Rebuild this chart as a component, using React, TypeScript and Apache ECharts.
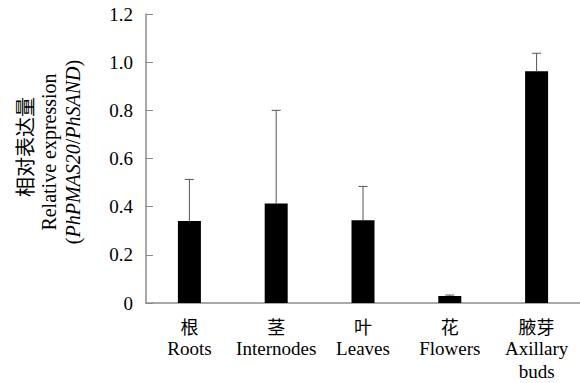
import React, { useEffect, useRef } from "react";
import * as echarts from "echarts";

const categoriesZh = ["根", "茎", "叶", "花", "腋芽"];
const categoriesEn = ["Roots", "Internodes", "Leaves", "Flowers", "Axillary\nbuds"];
const values = [0.34, 0.413, 0.344, 0.029, 0.962];
const errors = [0.173, 0.387, 0.14, 0.004, 0.075];
const yTicks = { min: 0, max: 1.2, interval: 0.2 };

const SERIF = "Liberation Serif";
const CJK = "Noto Sans CJK SC";

export default function App() {
  const ref = useRef<HTMLDivElement>(null);
  useEffect(() => {
    document.body.style.margin = "0";
    if (!ref.current) return;
    const chart = echarts.init(ref.current, undefined, { renderer: "svg" });
    const labels = categoriesZh.map((zh, i) => {
      const en = categoriesEn[i].split("\n").map((s) => `{en|${s}}`).join("\n");
      return `{zh|${zh}}\n${en}`;
    });
    chart.setOption({
      animation: false,
      backgroundColor: "#ffffff",
      textStyle: { fontFamily: SERIF },
      grid: { left: 146, top: 14, width: 442, bottom: 80, containLabel: false },
      xAxis: {
        type: "category",
        data: labels,
        boundaryGap: true,
        axisLine: { lineStyle: { color: "#8c8c8c", width: 1.5 } },
        axisTick: { inside: true, length: 8, lineStyle: { color: "#555", width: 1 } },
        axisLabel: {
          margin: 11,
          interval: 0,
          color: "#000",
          rich: {
            zh: { fontFamily: CJK, fontSize: 18, lineHeight: 23, color: "#000" },
            en: { fontFamily: SERIF, fontSize: 19, lineHeight: 23, color: "#000" },
          },
        },
        splitLine: { show: false },
      },
      yAxis: {
        type: "value",
        min: yTicks.min,
        max: yTicks.max,
        interval: yTicks.interval,
        axisLine: { show: true, lineStyle: { color: "#8c8c8c", width: 1.5 } },
        axisTick: { show: true, inside: true, length: 7, lineStyle: { color: "#8c8c8c", width: 1 } },
        axisLabel: {
          margin: 13,
          color: "#000",
          fontFamily: SERIF,
          fontSize: 19,
          formatter: (v: number) => (v === 0 ? "0" : v.toFixed(1)),
        },
        splitLine: { show: false },
      },
      series: [
        {
          type: "bar",
          data: values,
          barWidth: 23,
          itemStyle: { color: "#000" },
          z: 2,
        },
        {
          type: "custom",
          z: 3,
          data: values.map((v, i) => [i, v, v + errors[i]]),
          renderItem: (params: any, api: any) => {
            const i = api.value(0);
            const base = api.coord([i, api.value(1)]);
            const top = api.coord([i, api.value(2)]);
            const half = 4.5;
            const style = { stroke: "#555", lineWidth: 1 };
            return {
              type: "group",
              children: [
                { type: "line", shape: { x1: base[0], y1: base[1], x2: top[0], y2: top[1] }, style },
                { type: "line", shape: { x1: top[0] - half, y1: top[1], x2: top[0] + half, y2: top[1] }, style },
              ],
            };
          },
        },
      ],
      graphic: [
        {
          type: "text",
          x: 24,
          y: 147,
          rotation: Math.PI / 2,
          style: { text: "相对表达量", font: "20px Noto Sans CJK SC", fill: "#000000", align: "center", verticalAlign: "middle" },
        },
        {
          type: "text",
          x: 49,
          y: 152,
          rotation: Math.PI / 2,
          style: { text: "Relative expression", font: "20px Liberation Serif", fill: "#000000", align: "center", verticalAlign: "middle" },
        },
        {
          type: "text",
          x: 73,
          y: 152,
          rotation: Math.PI / 2,
          style: {
            text: "{n|(}{i|PhPMAS20}{n|/}{i|PhSAND}{n|)}",
            align: "center",
            verticalAlign: "middle",
            rich: {
              n: { fontFamily: SERIF, fontSize: 20, fill: "#000000" },
              i: { fontFamily: SERIF, fontSize: 20, fontStyle: "italic", fill: "#000000" },
            },
          },
        },
      ],
    });
    return () => chart.dispose();
  }, []);
  return <div ref={ref} style={{ width: 580, height: 383 }} />;
}
